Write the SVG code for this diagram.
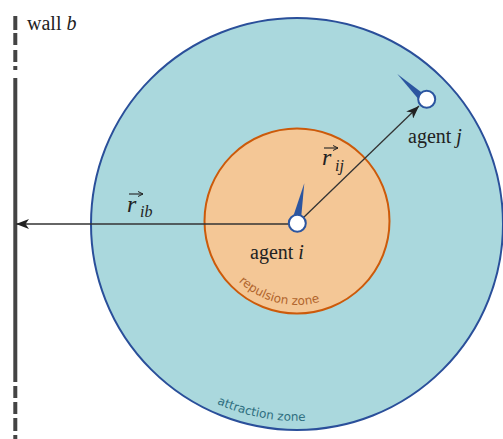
<svg xmlns="http://www.w3.org/2000/svg" width="503" height="439" viewBox="0 0 503 439">
<style>
.lbl{font-family:"Liberation Serif","DejaVu Serif",serif;font-size:20px;fill:#222}
.it{font-style:italic}
.rv{font-family:"Liberation Serif","DejaVu Serif",serif;font-style:italic;font-size:24px;fill:#222}
.sub{font-family:"Liberation Serif","DejaVu Serif",serif;font-style:italic;font-size:16px;fill:#222}
.zone{font-family:"DejaVu Sans",sans-serif;font-size:12px}
.wall{stroke:#444;stroke-width:4;fill:none}
.conn{stroke:#333;stroke-width:1.3;fill:none}
.agent{fill:#fff;stroke:#2b55a0;stroke-width:2}
.tail{fill:#2b55a0}
.vec{stroke:#222;stroke-width:1.1;fill:none}
</style>
<defs>
<marker id="ah" markerWidth="14" markerHeight="10" refX="13" refY="5" orient="auto" markerUnits="userSpaceOnUse">
<path d="M0,0 L13,5 L0,10 L3.5,5 Z" fill="#222"/>
</marker>
<marker id="vh" markerWidth="6" markerHeight="6" refX="5" refY="3" orient="auto" markerUnits="userSpaceOnUse">
<path d="M0,0.5 L5,3 L0,5.5" fill="none" stroke="#222" stroke-width="1"/>
</marker>
<path id="repArc" d="M238.6,281.4 A84,84 0 0 0 339,293.7"/>
<path id="attArc" d="M216.9,403.8 A197,197 0 0 0 395.5,394.6"/>
</defs>
<g id="attraction-zone">
<circle cx="297" cy="224" r="206" fill="#aad8dd" stroke="#2a4f9a" stroke-width="2"/>
<text class="zone" fill="#2f6f80"><textPath href="#attArc">attraction zone</textPath></text>
</g>
<g id="repulsion-zone">
<circle cx="297" cy="221" r="92.5" fill="#f4c796" stroke="#cc5a0a" stroke-width="2"/>
<text class="zone" fill="#b0642c"><textPath href="#repArc">repulsion zone</textPath></text>
</g>
<g id="wall">
<line class="wall" x1="15.3" y1="78" x2="15.3" y2="382"/>
<path class="wall" d="M15.3,16V30M15.3,33V45M15.3,50V62M15.3,66V70M15.3,386V398M15.3,402V414M15.3,418V431M15.3,435V439"/>
<text class="lbl" x="27" y="30">wall <tspan class="it">b</tspan></text>
</g>
<g id="connectors">
<line class="conn" x1="297" y1="224" x2="16" y2="224" marker-end="url(#ah)"/>
<line class="conn" x1="303" y1="218" x2="419" y2="106" marker-end="url(#ah)"/>
</g>
<g id="agent-i">
<path class="tail" d="M304.3,183.3 L301,219 L293,217 Z"/>
<circle class="agent" cx="297.3" cy="223.3" r="8.5"/>
<text class="lbl" x="250" y="259">agent <tspan class="it">i</tspan></text>
</g>
<g id="agent-j">
<path class="tail" d="M397.3,74 L425,95 L420,101 Z"/>
<circle class="agent" cx="426.7" cy="99.3" r="8.5"/>
<text class="lbl" x="408" y="143">agent <tspan class="it">j</tspan></text>
</g>
<g id="label-rij">
<text class="rv" x="322" y="165">r</text>
<text class="sub" x="335" y="171">ij</text>
<line class="vec" x1="324" y1="148" x2="338" y2="148" marker-end="url(#vh)"/>
</g>
<g id="label-rib">
<text class="rv" x="127" y="212">r</text>
<text class="sub" x="140" y="217">ib</text>
<line class="vec" x1="129" y1="194" x2="143" y2="194" marker-end="url(#vh)"/>
</g>
</svg>
